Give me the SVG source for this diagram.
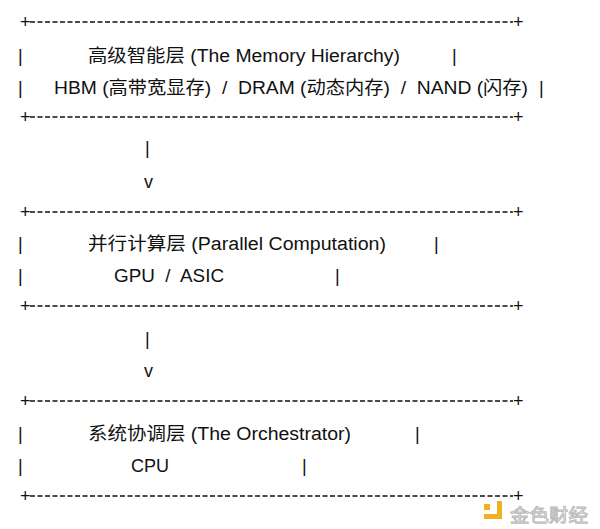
<svg xmlns="http://www.w3.org/2000/svg" width="600" height="529" viewBox="0 0 600 529">
<style>
text{font-family:"Liberation Sans","Noto Sans CJK SC",sans-serif;font-size:18px;fill:#111;white-space:pre}
.d{stroke:#111;stroke-width:1.3;stroke-dasharray:5 2.5}
.p{font-size:17px}
.wm{font-family:"Noto Sans CJK SC",sans-serif;font-size:18px;fill:#fff;stroke:#bbb;stroke-width:1}
</style>
<rect width="600" height="529" fill="#fff"/>
<g id="connectors">
<text x="145" y="154">|</text><text x="144" y="188">v</text>
<text x="145" y="345">|</text><text x="144" y="377">v</text>
</g>
<g id="borders">
<line class="d" x1="30" y1="22" x2="513" y2="22"/><line class="d" x1="30" y1="117" x2="513" y2="117"/>
<line class="d" x1="30" y1="212" x2="513" y2="212"/><line class="d" x1="30" y1="306" x2="513" y2="306"/>
<line class="d" x1="30" y1="401" x2="513" y2="401"/><line class="d" x1="30" y1="496" x2="513" y2="496"/>
<g class="p">
<text x="20" y="28">+</text><text x="513" y="28">+</text><text x="20" y="123">+</text><text x="513" y="123">+</text>
<text x="20" y="218">+</text><text x="513" y="218">+</text><text x="20" y="312">+</text><text x="513" y="312">+</text>
<text x="20" y="407">+</text><text x="513" y="407">+</text><text x="20" y="502">+</text><text x="513" y="502">+</text>
</g>
</g>
<g id="memory">
<text x="18" y="62">|</text><text x="88" y="62" textLength="312" lengthAdjust="spacingAndGlyphs">高级智能层 (The Memory Hierarchy)</text><text x="452" y="62">|</text>
<text x="18" y="94">|</text><text x="54" y="94" textLength="474" lengthAdjust="spacingAndGlyphs">HBM (高带宽显存)  /  DRAM (动态内存)  /  NAND (闪存)</text><text x="539" y="94">|</text>
</g>
<g id="parallel">
<text x="18" y="250">|</text><text x="88" y="250" textLength="298" lengthAdjust="spacingAndGlyphs">并行计算层 (Parallel Computation)</text><text x="434" y="250">|</text>
<text x="18" y="282">|</text><text x="114" y="282" textLength="110" lengthAdjust="spacingAndGlyphs">GPU  /  ASIC</text><text x="335" y="282">|</text>
</g>
<g id="orchestrator">
<text x="18" y="440">|</text><text x="88" y="440" textLength="263" lengthAdjust="spacingAndGlyphs">系统协调层 (The Orchestrator)</text><text x="415" y="440">|</text>
<text x="18" y="472">|</text><text x="131" y="472" textLength="38" lengthAdjust="spacingAndGlyphs">CPU</text><text x="302" y="472">|</text>
</g>
<g id="watermark" fill="#f0b020">
<rect x="484" y="514" width="18" height="5"/>
<rect x="497" y="501" width="5" height="18"/>
<rect x="484" y="504" width="6" height="6"/>
<text class="wm" x="510" y="522" textLength="78" lengthAdjust="spacingAndGlyphs">金色财经</text>
</g>
</svg>
